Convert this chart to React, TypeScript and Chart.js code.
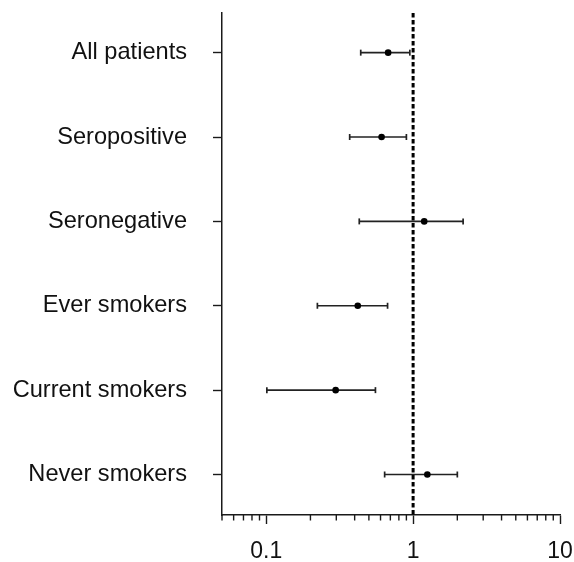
import React, { useEffect, useRef } from "react";
import { Chart, registerables } from "chart.js";

Chart.register(...registerables);

const categories = [
  "All patients",
  "Seropositive",
  "Seronegative",
  "Ever smokers",
  "Current smokers",
  "Never smokers",
];
const estimates = [0.676, 0.61, 1.19, 0.42, 0.297, 1.25];
const lowerCI = [0.44, 0.37, 0.43, 0.223, 0.101, 0.64];
const upperCI = [0.95, 0.9, 2.19, 0.67, 0.554, 2.0];
const referenceValue = 1;
const xMajorTicks = [0.1, 1, 10];
const xMinorTicks = [
  0.05, 0.06, 0.07, 0.08, 0.09, 0.2, 0.3, 0.4, 0.5, 0.6, 0.7, 0.8, 0.9, 2, 3,
  4, 5, 6, 7, 8, 9,
];
const xMin = 0.05;
const xMax = 10;
const yMin = -0.47;
const yMax = 5.48;

const INK = "#1a1a1a";
const FONT = "'Liberation Sans', Arial, sans-serif";

const minorTickPlugin = {
  id: "minorTicks",
  afterDraw(chart: any) {
    const xs = chart.scales.x;
    const ctx = chart.ctx;
    const y0 = xs.top;
    ctx.save();
    ctx.strokeStyle = INK;
    ctx.lineWidth = 1.4;
    for (const v of xMinorTicks) {
      const px = xs.getPixelForValue(v);
      ctx.beginPath();
      ctx.moveTo(px, y0);
      ctx.lineTo(px, y0 + 5.5);
      ctx.stroke();
    }
    ctx.restore();
  },
};

const zeroPad = (scale: any) => {
  scale.paddingTop = 0;
  scale.paddingBottom = 0;
  scale.paddingLeft = 0;
  scale.paddingRight = 0;
};

export default function App() {
  const ref = useRef<HTMLCanvasElement | null>(null);

  useEffect(() => {
    if (!ref.current) return;
    const errorSets = categories.map((_, i) => ({
      label: "ci" + i,
      data: [
        { x: lowerCI[i], y: i },
        { x: upperCI[i], y: i },
      ],
      showLine: true,
      borderColor: "#222",
      borderWidth: 1.7,
      pointStyle: "line",
      rotation: 90,
      pointRadius: 3,
      pointBorderColor: "#222",
      pointBorderWidth: 1.7,
      order: 2,
    }));

    const chart = new Chart(ref.current, {
      type: "scatter",
      data: {
        datasets: [
          {
            label: "estimate",
            data: estimates.map((v, i) => ({ x: v, y: i })),
            pointRadius: 3.3,
            pointBackgroundColor: "#000",
            pointBorderColor: "#000",
            pointBorderWidth: 0,
            order: 0,
          } as any,
          {
            label: "ref",
            data: [
              { x: referenceValue, y: yMin },
              { x: referenceValue, y: yMax },
            ],
            showLine: true,
            borderColor: "#000",
            borderWidth: 3,
            borderDash: [4.5, 2.5],
            pointRadius: 0,
            order: 1,
          } as any,
          ...(errorSets as any[]),
        ],
      },
      options: {
        responsive: false,
        animation: false,
        devicePixelRatio: 1,
        layout: { padding: { left: 0, right: 14, top: 13, bottom: 0 } },
        plugins: {
          legend: { display: false },
          tooltip: { enabled: false },
        },
        scales: {
          x: {
            type: "logarithmic",
            position: "bottom",
            min: xMin,
            max: xMax,
            afterBuildTicks: (scale: any) => {
              scale.ticks = xMajorTicks.map((v) => ({ value: v }));
            },
            afterFit: (scale: any) => {
              scale.height = 47;
              zeroPad(scale);
            },
            ticks: {
              autoSkip: false,
              maxRotation: 0,
              minRotation: 0,
              padding: 13.5,
              color: "#111",
              font: { family: FONT, size: 23 },
              callback: (v: any) => String(v),
            },
            grid: {
              drawOnChartArea: false,
              drawTicks: true,
              tickLength: 9,
              tickWidth: 1.4,
              tickColor: INK,
            },
            border: { display: true, color: INK, width: 1.5 },
          },
          y: {
            type: "linear",
            reverse: true,
            min: yMin,
            max: yMax,
            afterBuildTicks: (scale: any) => {
              scale.ticks = categories.map((_, i) => ({ value: i }));
            },
            afterFit: (scale: any) => {
              scale.width = 222;
              zeroPad(scale);
            },
            ticks: {
              autoSkip: false,
              padding: 26,
              color: "#111",
              font: { family: FONT, size: 23.6 },
              callback: (v: any) => categories[Math.round(Number(v))] ?? "",
            },
            grid: {
              drawOnChartArea: false,
              drawTicks: true,
              tickLength: 9,
              tickWidth: 1.4,
              tickColor: INK,
            },
            border: { display: true, color: INK, width: 1.5 },
          },
        },
      } as any,
      plugins: [minorTickPlugin],
    });
    return () => chart.destroy();
  }, []);

  return (
    <div
      style={{
        position: "absolute",
        left: 0,
        top: 0,
        width: 574,
        height: 562,
        background: "#fff",
      }}
    >
      <canvas ref={ref} width={574} height={562} />
    </div>
  );
}
